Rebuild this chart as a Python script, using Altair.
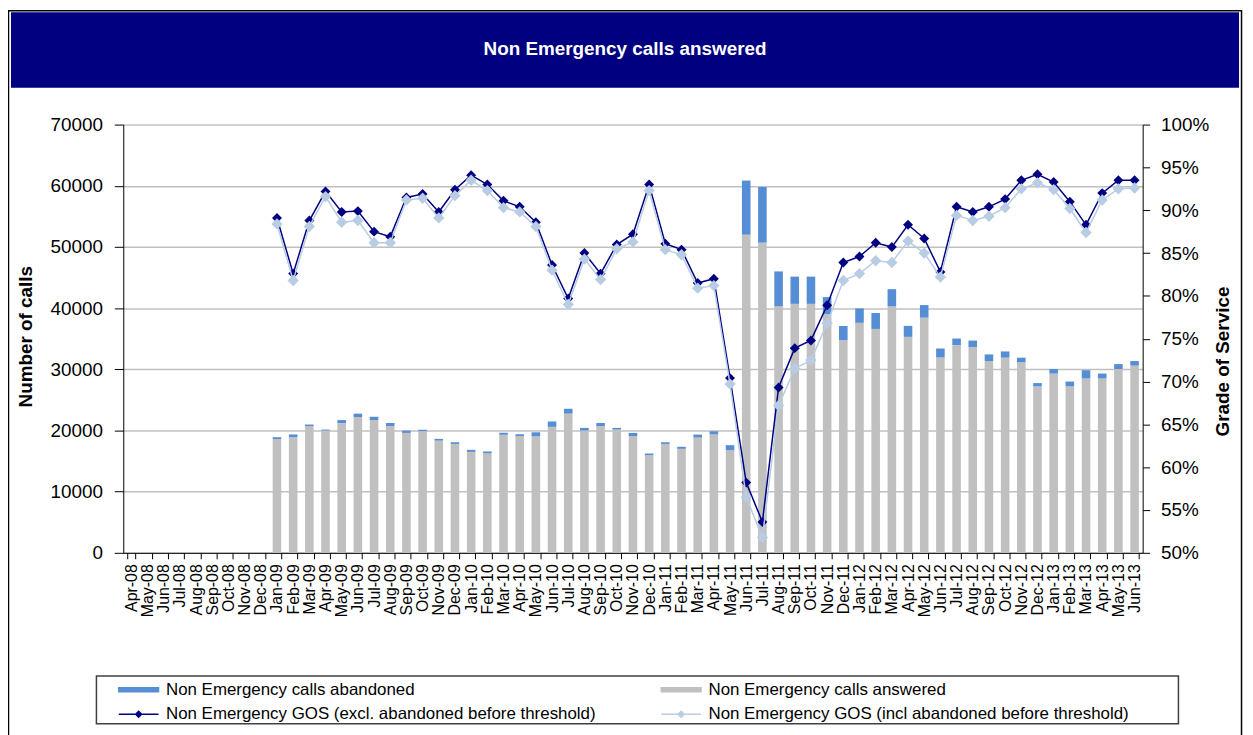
import altair as alt
import pandas as pd

months = [
    "Apr-08", "May-08", "Jun-08", "Jul-08", "Aug-08", "Sep-08", "Oct-08", "Nov-08", "Dec-08",
    "Jan-09", "Feb-09", "Mar-09", "Apr-09", "May-09", "Jun-09", "Jul-09", "Aug-09", "Sep-09", "Oct-09", "Nov-09", "Dec-09",
    "Jan-10", "Feb-10", "Mar-10", "Apr-10", "May-10", "Jun-10", "Jul-10", "Aug-10", "Sep-10", "Oct-10", "Nov-10", "Dec-10",
    "Jan-11", "Feb-11", "Mar-11", "Apr-11", "May-11", "Jun-11", "Jul-11", "Aug-11", "Sep-11", "Oct-11", "Nov-11", "Dec-11",
    "Jan-12", "Feb-12", "Mar-12", "Apr-12", "May-12", "Jun-12", "Jul-12", "Aug-12", "Sep-12", "Oct-12", "Nov-12", "Dec-12",
    "Jan-13", "Feb-13", "Mar-13", "Apr-13", "May-13", "Jun-13",
]
data_months = months[9:]  # data from Jan-09

answered = [
    18600, 18900, 20700, 20000, 21200, 22200, 21700, 20700, 19600, 19900, 18350, 17800,
    16500, 16250, 19300, 19100, 19050, 20600, 22750, 20000, 20700, 20150, 19100, 15950,
    17800, 17000, 18850, 19350, 16800, 52000, 50700, 40300, 40700, 40700, 39000, 34750,
    37600, 36600, 40300, 35300, 38450, 31950, 33950, 33650, 31350, 31900, 31150, 27200,
    29300, 27200, 28500, 28500, 30050, 30600,
]
abandoned = [
    300, 450, 270, 150, 500, 550, 550, 520, 380, 220, 280, 280,
    330, 320, 330, 280, 650, 870, 800, 420, 520, 270, 500, 280,
    280, 330, 480, 520, 800, 8850, 9100, 5700, 4450, 4450, 2800, 2330,
    2350, 2600, 2800, 1800, 2050, 1450, 1080, 1050, 1080, 1020, 750, 550,
    750, 800, 1350, 800, 800, 750,
]
gos_excl = [
    89.1, 82.6, 88.8, 92.2, 89.8, 89.9, 87.5, 86.9, 91.5, 91.9, 89.8, 92.4,
    94.1, 93.0, 91.1, 90.4, 88.6, 83.6, 79.7, 85.0, 82.6, 86.0, 87.2, 93.0,
    86.1, 85.4, 81.5, 82.0, 70.4, 58.2, 53.6, 69.3, 73.9, 74.8, 78.9, 83.9,
    84.6, 86.2, 85.7, 88.3, 86.7, 82.8, 90.4, 89.8, 90.4, 91.3, 93.5, 94.2,
    93.3, 91.0, 88.3, 92.0, 93.5, 93.5,
]
gos_incl = [
    88.4, 81.8, 88.1, 91.6, 88.6, 88.8, 86.2, 86.2, 91.2, 91.4, 89.1, 91.7,
    93.5, 92.3, 90.3, 89.8, 88.1, 83.0, 79.0, 84.3, 81.9, 85.5, 86.3, 92.3,
    85.4, 84.8, 80.9, 81.2, 69.7, 56.5, 51.8, 67.2, 71.5, 72.5, 76.8, 81.8,
    82.6, 84.1, 83.9, 86.4, 85.0, 82.2, 89.4, 88.8, 89.3, 90.3, 92.5, 93.2,
    92.4, 90.2, 87.4, 91.2, 92.5, 92.6,
]
calls_ticks = [0, 10000, 20000, 30000, 40000, 50000, 60000, 70000]
gos_ticks = [50, 55, 60, 65, 70, 75, 80, 85, 90, 95, 100]

S_AB = "Non Emergency calls abandoned"
S_ANS = "Non Emergency calls answered"
S_EXCL = "Non Emergency GOS (excl. abandoned before threshold)"
S_INCL = "Non Emergency GOS (incl abandoned before threshold)"
# legend fills column by column: col 1 = abandoned, excl; col 2 = answered, incl
series_names = [S_AB, S_EXCL, S_ANS, S_INCL]

C_AB = "#558ed5"
C_ANS = "#c0c0c0"
C_DARK = "#000080"
C_LIGHT = "#b8cce4"

df = pd.DataFrame({
    "month": data_months,
    "answered": answered,
    "abandoned": abandoned,
    "excl": gos_excl,
    "incl": gos_incl,
})
df["total"] = df["answered"] + df["abandoned"]

FONT = "Liberation Sans"
W, H = 1026, 431

x_enc = alt.X(
    "month:N",
    scale=alt.Scale(domain=months, paddingInner=0.47, paddingOuter=0.235),
    axis=alt.Axis(
        title=None, labelAngle=270, labelFontSize=16, labelFont=FONT, labelColor="black",
        tickBand="extent", tickSize=6, tickColor="black", domainColor="black",
        labelPadding=5, grid=False, labelOverlap=False,
    ),
)

calls_scale = alt.Scale(domain=[0, 70000], nice=False, zero=True)
left_axis = alt.Axis(
    orient="left", values=calls_ticks, format="d", title="Number of calls",
    labelFontSize=19, labelFont=FONT, labelColor="black", labelPadding=12,
    tickSize=9, tickColor="black", domainColor="black",
    grid=True, gridColor="#c0c0c0", gridWidth=1.5,
    titleFont=FONT, titleFontSize=19, titleFontWeight="bold", titleColor="black",
    titleAngle=270, titleAlign="center", titleBaseline="middle", titleX=-98, titleY=213,
)
gos_scale = alt.Scale(domain=[50, 100], nice=False, zero=False)
right_axis = alt.Axis(
    orient="right", values=gos_ticks, labelExpr="datum.value + '%'", title="Grade of Service",
    labelFontSize=19, labelFont=FONT, labelColor="black", labelPadding=11,
    tickSize=7, tickColor="black", domainColor="black", grid=False,
    titleFont=FONT, titleFontSize=19, titleFontWeight="bold", titleColor="black",
    titleAngle=270, titleAlign="center", titleBaseline="middle", titleX=80, titleY=238,
)

base = alt.Chart(df)
bar_ans = base.mark_bar(color=C_ANS).encode(
    x=x_enc, y=alt.Y("answered:Q", scale=calls_scale, axis=left_axis)
)
bar_ab = base.mark_bar(color=C_AB).encode(
    x=x_enc, y=alt.Y("total:Q", scale=calls_scale, axis=left_axis), y2="answered:Q"
)
bars = alt.layer(bar_ans, bar_ab)

line_dark = base.mark_line(color=C_DARK, strokeWidth=1.5).encode(
    x=x_enc, y=alt.Y("excl:Q", scale=gos_scale, axis=right_axis)
)
pts_dark = base.mark_point(shape="diamond", filled=True, size=100, color=C_DARK, opacity=1).encode(
    x=x_enc, y=alt.Y("excl:Q", scale=gos_scale, axis=right_axis)
)
line_light = base.mark_line(color=C_LIGHT, strokeWidth=1.5).encode(
    x=x_enc, y=alt.Y("incl:Q", scale=gos_scale, axis=right_axis)
)
pts_light = base.mark_point(shape="diamond", filled=True, size=130, color=C_LIGHT, opacity=1).encode(
    x=x_enc, y=alt.Y("incl:Q", scale=gos_scale, axis=right_axis)
)
lines = alt.layer(line_dark, pts_dark, line_light, pts_light)

# legend (symbols drawn by the legend itself)
sym_bar = "M-1,-0.4H7V0.4H-1Z"
sym_line = "M-1,0H7M2.4,0L3,-0.6L3.6,0L3,0.6Z"
colors = {S_AB: C_AB, S_ANS: C_ANS, S_EXCL: C_DARK, S_INCL: C_LIGHT}
shapes = {S_AB: sym_bar, S_ANS: sym_bar, S_EXCL: sym_line, S_INCL: sym_line}
leg_def = alt.Legend(
    title=None, orient="none", legendX=-8, legendY=560, columns=2, columnPadding=62,
    rowPadding=7, symbolSize=100, symbolStrokeWidth=1.5, labelOffset=34,
    labelFontSize=17, labelFont=FONT, labelColor="black", padding=0, labelLimit=700,
)
leg_df = pd.DataFrame({"series": series_names})
color_range = [colors[s] for s in series_names]
shape_range = [shapes[s] for s in series_names]
legend_layer = alt.Chart(leg_df).transform_filter("false").mark_point(filled=True, opacity=1).encode(
    fill=alt.Fill("series:N", scale=alt.Scale(domain=series_names, range=color_range), legend=leg_def),
    stroke=alt.Stroke("series:N", scale=alt.Scale(domain=series_names, range=color_range), legend=leg_def),
    shape=alt.Shape("series:N", scale=alt.Scale(domain=series_names, range=shape_range), legend=leg_def),
)

one = pd.DataFrame({"a": [0]})
border = alt.Chart(one).mark_rect(fillOpacity=0, stroke="black", strokeWidth=1.5).encode(
    x=alt.value(-115.5), x2=alt.value(1125.5), y=alt.value(-114.5), y2=alt.value(700)
)
banner = alt.Chart(one).mark_rect(color="#000080").encode(
    x=alt.value(-113), x2=alt.value(1123), y=alt.value(-113), y2=alt.value(-37)
)
title_text = alt.Chart(one).mark_text(
    text="Non Emergency calls answered", color="white", fontSize=19, fontWeight="bold",
    font=FONT, align="center", baseline="middle",
).encode(x=alt.value(505), y=alt.value(-76))
legend_box = alt.Chart(one).mark_rect(fillOpacity=0, stroke="#404040", strokeWidth=1.5).encode(
    x=alt.value(-27), x2=alt.value(1062), y=alt.value(555), y2=alt.value(603)
)

chart = (
    alt.layer(border, banner, title_text, legend_box, bars, lines, legend_layer)
    .resolve_scale(y="independent")
    .properties(
        width=W, height=H,
        autosize=alt.AutoSizeParams(type="none"),
        padding={"left": 116, "top": 115, "right": 103, "bottom": 181},
        background="white",
    )
    .configure_view(stroke=None)
)

chart.save("out.html", embed_options={"renderer": "svg", "actions": False})
